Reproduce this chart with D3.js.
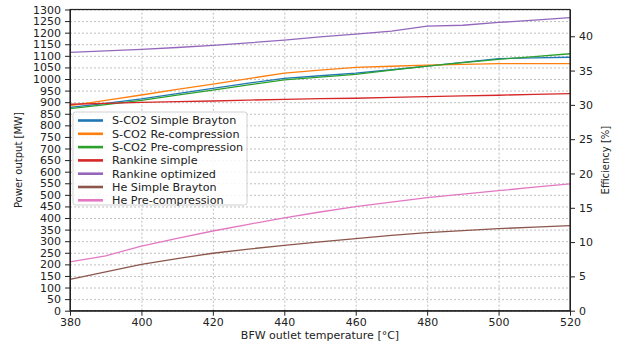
<!DOCTYPE html>
<html>
<head>
<meta charset="utf-8">
<script src="https://cdn.jsdelivr.net/npm/d3@7"></script>
<style>
    body { margin: 0; background: #fff; }
    text { font-family: "DejaVu Sans", sans-serif; fill: #222; }
    .grid line { stroke: #b8b8b8; stroke-dasharray: 2,2; stroke-width: 0.9; }
    .grid .domain { display: none; }
    .axis text { font-size: 11px; }
    .axis line, .axis path { stroke: #222; }
</style>
</head>
<body>
<script>
    const W = 627, H = 347;
    const PLOT = {left: 70, right: 570, top: 9.5, bottom: 310.7};

    // BFW outlet temperature [°C]
    const temps = [380, 390, 400, 410, 420, 430, 440, 450, 460, 470, 480, 490, 500, 510, 520];

    // power output [MW]
    const sco2Simple  = [878, 895, 914, 937, 960, 982, 1003, 1014, 1025, 1040, 1056, 1072, 1088, 1091, 1094];
    const sco2Recomp  = [885, 908, 931, 955, 978, 1002, 1025, 1038, 1050, 1055, 1060, 1063, 1066, 1066, 1066];
    const sco2Precomp = [872, 889, 908, 930, 952, 975, 996, 1008, 1020, 1038, 1056, 1071, 1085, 1097, 1109];
    const rankSimple  = [891, 895, 899, 902, 905, 909, 912, 915, 917, 921, 924, 927, 930, 934, 937];
    const rankOpt     = [1115, 1121, 1128, 1136, 1145, 1156, 1168, 1182, 1194, 1207, 1228, 1232, 1244, 1254, 1265];
    const heSimple    = [135, 168, 200, 225, 248, 266, 282, 297, 311, 325, 337, 346, 354, 361, 367];
    const hePrecomp   = [211, 237, 279, 312, 344, 373, 401, 426, 449, 469, 488, 503, 518, 533, 547];

    const seriesNames = ["S-CO2 Simple Brayton", "S-CO2 Re-compression", "S-CO2 Pre-compression",
        "Rankine simple", "Rankine optimized", "He Simple Brayton", "He Pre-compression"];
    const seriesValues = [sco2Simple, sco2Recomp, sco2Precomp, rankSimple, rankOpt, heSimple, hePrecomp];
    const COLORS = ["#1f77b4", "#ff7f0e", "#2ca02c", "#d62728", "#9467bd", "#8c564b", "#e377c2"];

    const xTicks = [380, 400, 420, 440, 460, 480, 500, 520];
    const yTicks = d3.range(0, 1301, 50);
    const effTicks = [0, 5, 10, 15, 20, 25, 30, 35, 40];

    var x = d3.scaleLinear().domain([380, 520]).range([PLOT.left, PLOT.right]);
    var y = d3.scaleLinear().domain([0, 1300]).range([PLOT.bottom, PLOT.top]);
    var yEff = d3.scaleLinear().domain([0, 43.9]).range([PLOT.bottom, PLOT.top]);

    var svg = d3.select("body").append("svg")
        .attr("width", W)
        .attr("height", H);

    // grid
    svg.append("g")
        .attr("class", "grid")
        .attr("transform", "translate(0," + PLOT.bottom + ")")
        .call(d3.axisBottom(x).tickValues(xTicks).tickSize(-(PLOT.bottom - PLOT.top)).tickFormat(""));
    svg.append("g")
        .attr("class", "grid")
        .attr("transform", "translate(" + PLOT.left + ",0)")
        .call(d3.axisLeft(y).tickValues(yTicks).tickSize(-(PLOT.right - PLOT.left)).tickFormat(""));

    // lines
    var line = d3.line()
        .x(function(d, i) { return x(temps[i]); })
        .y(function(d) { return y(d); });

    svg.append("g")
        .selectAll("path")
        .data(seriesValues)
        .enter()
        .append("path")
        .attr("fill", "none")
        .attr("stroke", function(d, i) { return COLORS[i]; })
        .attr("stroke-width", 1.3)
        .attr("d", line);

    // frame
    svg.append("rect")
        .attr("x", PLOT.left)
        .attr("y", PLOT.top)
        .attr("width", PLOT.right - PLOT.left)
        .attr("height", PLOT.bottom - PLOT.top)
        .attr("fill", "none")
        .attr("stroke", "#222")
        .attr("stroke-width", 1.2);

    // axes
    svg.append("g")
        .attr("class", "axis")
        .attr("transform", "translate(0," + PLOT.bottom + ")")
        .call(d3.axisBottom(x).tickValues(xTicks).tickFormat(d3.format("d")).tickSize(5).tickPadding(3).tickSizeOuter(0));
    svg.append("g")
        .attr("class", "axis")
        .attr("transform", "translate(" + PLOT.left + ",0)")
        .call(d3.axisLeft(y).tickValues(yTicks).tickFormat(d3.format("d")).tickSize(5).tickPadding(4).tickSizeOuter(0));
    svg.append("g")
        .attr("class", "axis")
        .attr("transform", "translate(" + PLOT.right + ",0)")
        .call(d3.axisRight(yEff).tickValues(effTicks).tickFormat(d3.format("d")).tickSize(5).tickPadding(4).tickSizeOuter(0));

    // axis titles
    svg.append("text")
        .attr("x", (PLOT.left + PLOT.right) / 2)
        .attr("y", 339)
        .attr("text-anchor", "middle")
        .style("font-size", "11px")
        .text("BFW outlet temperature [°C]");
    svg.append("text")
        .attr("transform", "translate(22," + (PLOT.top + PLOT.bottom) / 2 + ") rotate(-90)")
        .attr("text-anchor", "middle")
        .style("font-size", "10px")
        .text("Power output [MW]");
    svg.append("text")
        .attr("transform", "translate(609," + (PLOT.top + PLOT.bottom) / 2 + ") rotate(-90)")
        .attr("text-anchor", "middle")
        .style("font-size", "10px")
        .text("Efficiency [%]");

    // legend
    var legend = svg.append("g")
        .attr("transform", "translate(73,112)");
    legend.append("rect")
        .attr("width", 174)
        .attr("height", 93)
        .attr("rx", 2.5)
        .attr("fill", "#fff")
        .attr("fill-opacity", 0.85)
        .attr("stroke", "#d0d0d0");
    var rows = legend.selectAll("g.row")
        .data(seriesNames)
        .enter()
        .append("g")
        .attr("class", "row")
        .attr("transform", function(d, i) { return "translate(0," + (8.5 + i * 13.3) + ")"; });
    rows.append("line")
        .attr("x1", 5).attr("x2", 30)
        .attr("stroke", function(d, i) { return COLORS[i]; })
        .attr("stroke-width", 2.6);
    rows.append("text")
        .attr("x", 39)
        .attr("dy", "0.35em")
        .style("font-size", "11.2px")
        .text(function(d) { return d; });
</script>
</body>
</html>
